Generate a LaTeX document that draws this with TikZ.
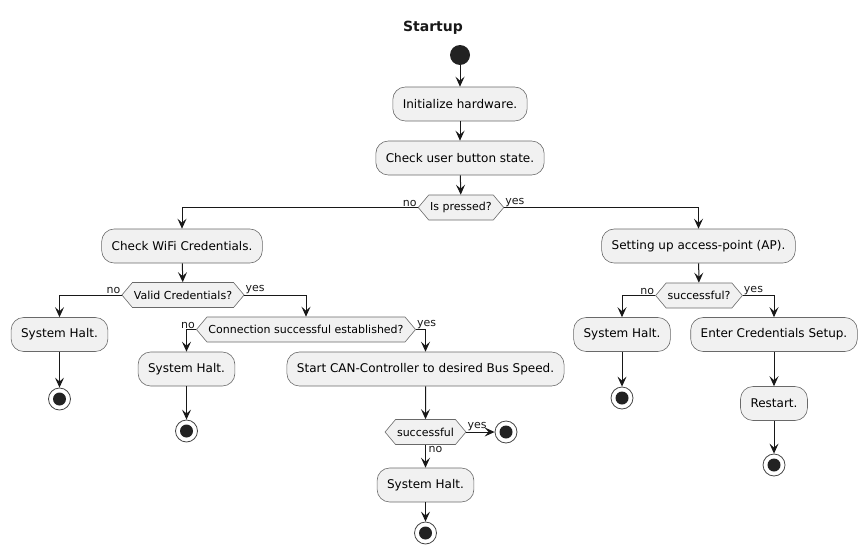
\documentclass[tikz,border=0pt]{standalone}
\usepackage{fontspec}
\setmainfont{DejaVu Sans}
\usetikzlibrary{arrows.meta,shapes.symbols}
\definecolor{Ink}{HTML}{181818}
\definecolor{BoxFill}{HTML}{F1F1F1}
\definecolor{Dot}{HTML}{222222}

\begin{document}
\begin{tikzpicture}[x=1pt,y=-1pt,
      flow/.style={-{Stealth[length=10pt,width=9pt,inset=4pt]},Ink,line width=1pt},
      act/.style={draw=Ink!65,fill=BoxFill,rounded corners=12.5pt,line width=0.6pt,
                  inner xsep=10pt,minimum height=34pt,font=\fontsize{12}{14}\selectfont},
      choice/.style={signal,signal to=west and east,signal pointer angle=100,
                     draw=Ink!65,fill=BoxFill,line width=0.6pt,inner xsep=1.5pt,
                     minimum height=25pt,font=\fontsize{11}{13}\selectfont},
      guard/.style={font=\fontsize{11}{13}\selectfont,inner sep=1pt,text=Ink},
      begin/.style={circle,fill=Dot,minimum size=20pt,inner sep=0pt},
      finish/.style={circle,draw=Ink!80,fill=white,line width=0.8pt,
                     minimum size=22pt,inner sep=0pt,
                     path picture={\fill[Dot] (path picture bounding box.center) circle (6.5pt);}}]
    \useasboundingbox (0,0) rectangle (867,554);
    \node[font=\bfseries\fontsize{14}{16}\selectfont,text=Ink] (title) at (433,28) {Startup};
    % main trunk
    \node[begin] (start) at (460,55) {};
    \node[act] (init) at (460,104) {Initialize hardware.};
    \node[act] (button) at (460,158) {Check user button state.};
    \node[choice] (pressed) at (461,207.5) {Is pressed?};
    \draw[flow] (start)--(init);
    \draw[flow] (init)--(button);
    \draw[flow] (button)--(pressed);
    % not pressed
    \node[act] (wifi) at (182,246) {Check WiFi Credentials.};
    \node[choice] (valid) at (183,295) {Valid Credentials?};
    \node[act] (haltA) at (59.5,334.5) {System Halt.};
    \node[finish] (stopA) at (59.5,399) {};
    \node[choice] (conn) at (306,329.5) {Connection successful established?};
    \node[act] (haltB) at (186.5,369) {System Halt.};
    \node[finish] (stopB) at (186.5,431) {};
    \node[act] (can) at (425.5,369) {Start CAN-Controller to desired Bus Speed.};
    \node[choice] (canok) at (425.5,432) {successful};
    \node[finish] (stopC) at (506,432) {};
    \node[act] (haltC) at (425.5,485) {System Halt.};
    \node[finish] (stopD) at (425.5,533) {};
    % pressed
    \node[act] (ap) at (698.5,246) {Setting up access-point (AP).};
    \node[choice] (apok) at (699,295.5) {successful?};
    \node[act] (haltD) at (622,334.5) {System Halt.};
    \node[finish] (stopE) at (622,398) {};
    \node[act] (setup) at (774,334.5) {Enter Credentials Setup.};
    \node[act] (restart) at (774,403.5) {Restart.};
    \node[finish] (stopF) at (774,465) {};
    \draw[flow] (pressed.west) -| (wifi.north);
    \draw[flow] (pressed.east) -| (ap.north);
    \draw[flow] (wifi)--(valid);
    \draw[flow] (valid.west) -| (haltA.north);
    \draw[flow] (haltA)--(stopA);
    \draw[flow] (valid.east) -| (conn.north);
    \draw[flow] (conn.west) -| (haltB.north);
    \draw[flow] (haltB)--(stopB);
    \draw[flow] (conn.east) -| (can.north);
    \draw[flow] (can)--(canok);
    \draw[flow] (canok.east)--(stopC);
    \draw[flow] (canok.south)--(haltC.north);
    \draw[flow] (haltC)--(stopD);
    \draw[flow] (ap)--(apok);
    \draw[flow] (apok.west) -| (haltD.north);
    \draw[flow] (haltD)--(stopE);
    \draw[flow] (apok.east) -| (setup.north);
    \draw[flow] (setup)--(restart);
    \draw[flow] (restart)--(stopF);
    % guards
    \node[guard,anchor=south east] (pressedNo) at (pressed.west) {no};
    \node[guard,anchor=south west] (pressedYes) at (pressed.east) {yes};
    \node[guard,anchor=south east] (validNo) at (valid.west) {no};
    \node[guard,anchor=south west] (validYes) at (valid.east) {yes};
    \node[guard,anchor=south east] (connNo) at (conn.west) {no};
    \node[guard,anchor=south west] (connYes) at (conn.east) {yes};
    \node[guard,anchor=south west] (canokYes) at (canok.east) {yes};
    \node[guard,anchor=north west,xshift=2pt] (canokNo) at (canok.south) {no};
    \node[guard,anchor=south east] (apokNo) at (apok.west) {no};
    \node[guard,anchor=south west] (apokYes) at (apok.east) {yes};
\end{tikzpicture}
\end{document}
